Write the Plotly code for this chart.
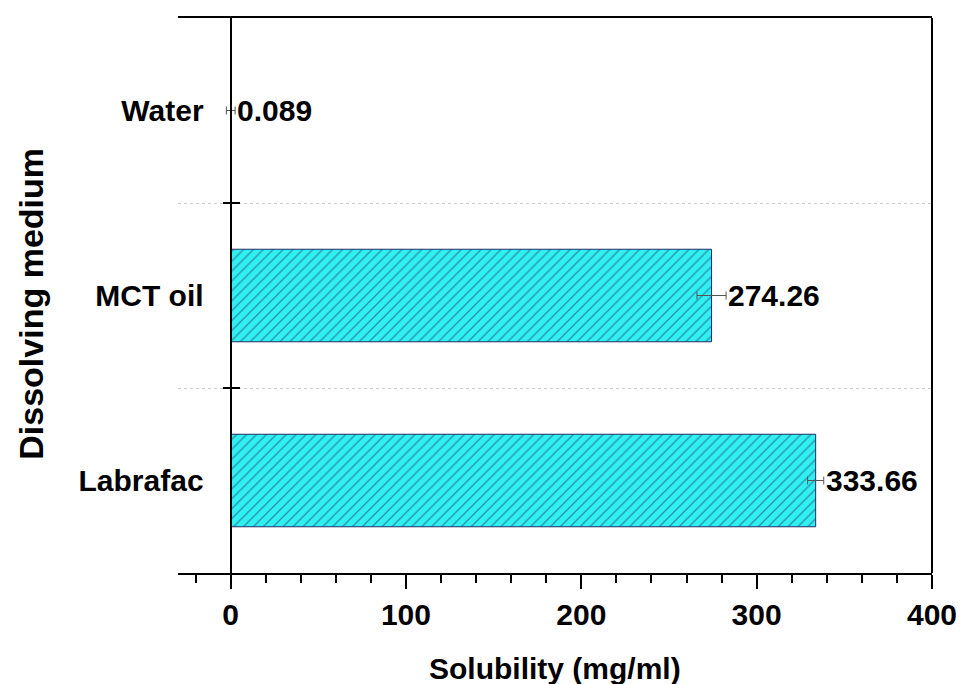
import plotly.graph_objects as go

# ---- data ----
categories = ["Water", "MCT oil", "Labrafac"]
solubility = [0.089, 274.26, 333.66]
errors = [2.5, 8.3, 4.6]
x_ticks = [0, 100, 200, 300, 400]

x_min, x_max = -30, 400
FONT = "Liberation Sans, Arial, sans-serif"

n = len(categories)
boundaries = [i + 0.5 for i in range(n - 1)]
y_pos = (0 - x_min) / (x_max - x_min)

fig = go.Figure()

fig.add_trace(go.Bar(
    y=categories, x=solubility, orientation="h", width=0.5,
    marker=dict(color="#30F0F0",
                line=dict(color="#1c2f66", width=1),
                pattern=dict(shape="/", fgcolor="#1a2f6e", bgcolor="#30F0F0",
                             size=7, solidity=0.18)),
    error_x=dict(type="data", array=errors, visible=True,
                 color="#555555", thickness=1, width=4),
    showlegend=False, hoverinfo="skip",
))

# invisible traces to activate helper axes
fig.add_trace(go.Scatter(x=[None], y=[None], yaxis="y2", showlegend=False, hoverinfo="skip"))
fig.add_trace(go.Scatter(x=[None], y=[None], yaxis="y3", showlegend=False, hoverinfo="skip"))

for cat, v, e in zip(categories, solubility, errors):
    fig.add_annotation(x=v + e, y=cat, text=f"{v}", showarrow=False,
                       xanchor="left", yanchor="middle", xshift=0,
                       font=dict(family=FONT, size=30, color="black", weight="bold"))

fig.add_annotation(x=0.5, y=0, xref="paper", yref="paper", text="Solubility (mg/ml)",
                   showarrow=False, xanchor="center", yanchor="middle", yshift=-95,
                   font=dict(family=FONT, size=30, color="black", weight="bold"))
fig.add_annotation(x=-0.196, y=0.5, xref="paper", yref="paper", text="Dissolving medium",
                   showarrow=False, xanchor="center", yanchor="middle", textangle=-90,
                   yshift=-8,
                   font=dict(family=FONT, size=34, color="black", weight="bold"))

# right border
fig.add_shape(type="line", xref="paper", yref="paper", x0=1, x1=1, y0=0, y1=1,
              line=dict(color="black", width=2))

fig.update_layout(
    width=960, height=684,
    margin=dict(l=178, r=28, t=18, b=111),
    paper_bgcolor="white", plot_bgcolor="white",
    xaxis=dict(range=[x_min, x_max], tickvals=x_ticks, ticktext=[str(t) for t in x_ticks],
               showgrid=False, zeroline=False, showline=True, linecolor="black",
               linewidth=2, mirror=True, ticks="outside", ticklen=14, tickwidth=2,
               tickcolor="black",
               minor=dict(dtick=20, tick0=0, ticks="outside", ticklen=8, tickwidth=2,
                          tickcolor="black", showgrid=False),
               tickfont=dict(family=FONT, size=30, color="black", weight="bold"),
               automargin=False),
    yaxis=dict(type="category", categoryorder="array", categoryarray=categories,
               range=[n - 0.5, -0.5], anchor="free", position=y_pos,
               showline=True, linecolor="black", linewidth=2, showgrid=False,
               zeroline=False, ticks="", ticklabelstandoff=20,
               tickfont=dict(family=FONT, size=30, color="black", weight="bold"),
               automargin=False),
    yaxis2=dict(overlaying="y", anchor="free", position=y_pos, range=[n - 0.5, -0.5],
                tickvals=boundaries, showticklabels=False, ticks="outside",
                ticklen=8, tickwidth=2, tickcolor="black", showline=False,
                showgrid=True, gridcolor="#cccccc", griddash="dot", gridwidth=1,
                zeroline=False, automargin=False),
    yaxis3=dict(overlaying="y", anchor="free", position=y_pos, range=[n - 0.5, -0.5],
                tickvals=boundaries, showticklabels=False, ticks="inside",
                ticklen=8, tickwidth=2, tickcolor="black", showline=False,
                showgrid=False, zeroline=False, automargin=False),
)

fig.write_html("out.html")
